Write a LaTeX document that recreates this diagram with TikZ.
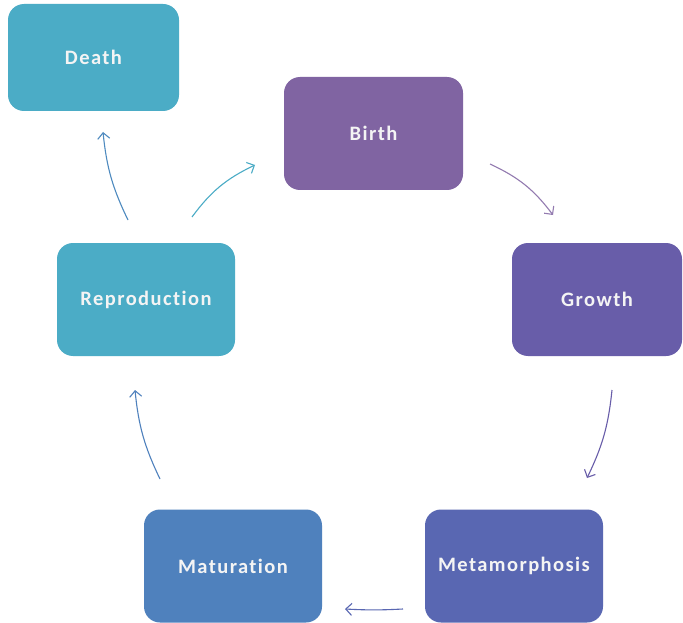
\documentclass[tikz,border=0pt]{standalone}
\usepackage{fontspec}
\setmainfont{Carlito}[LetterSpace=7, Ligatures={NoCommon}]
\usetikzlibrary{arrows.meta}
\definecolor{cAqua}{HTML}{4BACC6}
\definecolor{cPurple}{HTML}{8064A2}
\definecolor{cViolet}{HTML}{685DA9}
\definecolor{cIndigo}{HTML}{5967B2}
\definecolor{cBlue}{HTML}{4F81BD}
\definecolor{cText}{HTML}{F4F4F4}
\tikzset{
  stage/.style={rounded corners=16pt, inner sep=0pt, text=cText,
    font=\bfseries\fontsize{20.5}{22}\selectfont},
  flow/.style={line width=1.1pt, -{Straight Barb[length=6pt,width=12pt,line width=1.1pt]}, bend left=14},
}
\begin{document}
\begin{tikzpicture}[x=1pt,y=-1pt]
\useasboundingbox (0,0) rectangle (683,623);
\fill[white] (0,0) rectangle (683,623);
\node[stage, fill=cAqua, minimum width=171pt, minimum height=107pt] (death) at (93.5,57.5) {Death};
\node[stage, fill=cPurple, minimum width=179pt, minimum height=113pt] (birth) at (373.5,133.5) {Birth};
\node[stage, fill=cViolet, minimum width=170pt, minimum height=113pt] (growth) at (597,299.5) {Growth};
\node[stage, fill=cIndigo, minimum width=178pt, minimum height=113pt] (meta) at (514,566) {Metamorphosis};
\node[stage, fill=cBlue, minimum width=178pt, minimum height=113pt] (mat) at (233,566) {Maturation};
\node[stage, fill=cAqua, minimum width=178pt, minimum height=113pt] (repro) at (146,299.5) {Reproduction};

\coordinate (bgA) at (490,164);
\coordinate (bgB) at (553,215);
\coordinate (gmA) at (612,390);
\coordinate (gmB) at (587,478);
\coordinate (mmA) at (403,609);
\coordinate (mmB) at (345,609);
\coordinate (mrA) at (160,479);
\coordinate (mrB) at (135,390);
\coordinate (rdA) at (128,220);
\coordinate (rdB) at (103,132);
\coordinate (rbA) at (192,217);
\coordinate (rbB) at (255,165);

\draw[flow, color=cPurple!85!white] (bgA) to (bgB);
\draw[flow, color=cViolet, bend left=10] (gmA) to (gmB);
\draw[flow, color=cIndigo, bend left=3] (mmA) to (mmB);
\draw[flow, color=cBlue, bend left=10] (mrA) to (mrB);
\draw[flow, color=cBlue!80!cAqua, bend left=10] (rdA) to (rdB);
\draw[flow, color=cAqua] (rbA) to (rbB);
\end{tikzpicture}
\end{document}
